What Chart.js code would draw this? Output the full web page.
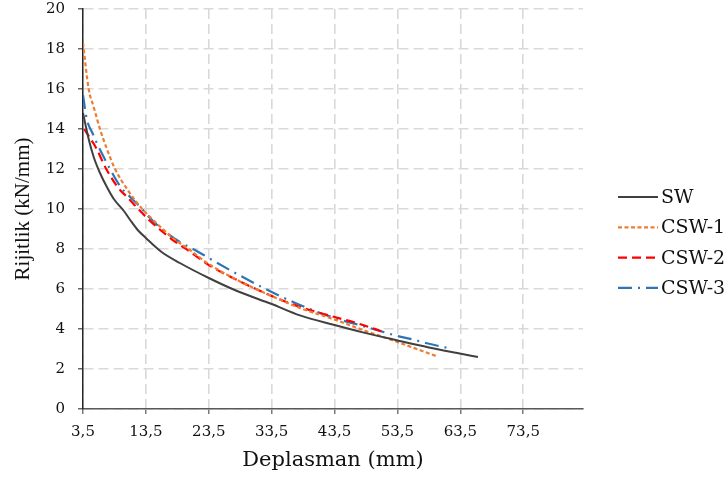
<!DOCTYPE html>
<html>
<head>
<meta charset="utf-8">
<script src="https://cdn.jsdelivr.net/npm/chart.js@4.4.1/dist/chart.umd.min.js"></script>
<style>
html,body{margin:0;padding:0;background:#fff;}
#wrap{width:728px;height:484px;}
</style>
</head>
<body>
<div id="wrap"><canvas id="rijitlik" width="728" height="484"></canvas></div>
<script>
// deplasman (mm) / rijitlik (kN/mm) per specimen
const xTicks=[3.5,13.5,23.5,33.5,43.5,53.5,63.5,73.5];

const swX=[3.5,4.4,5.2,6.2,7.3,8.4,10,11,12.2,13.5,16,18.9,23.5,28,33.5,38,43.5,48,53.5,58.5,63,66.3];
const swY=[14.8,13.5,12.6,11.8,11.1,10.5,9.9,9.45,8.95,8.55,7.85,7.3,6.55,5.9,5.25,4.68,4.2,3.83,3.43,3.08,2.8,2.6];

const csw1X=[3.5,4.4,5.2,6.2,7.3,8.6,10.5,12.9,14,16,18,20.5,23.5,28,33.5,38,43.5,48,53.5,57,59.8];
const csw1Y=[18.3,16.0,15.1,14.0,13.0,12.0,11.0,10.0,9.65,9.05,8.5,7.95,7.25,6.45,5.65,5.05,4.47,3.95,3.35,2.95,2.63];

const csw2X=[3.7,4.5,5.5,7.2,9,10.5,12.3,14,16,18,20,23.5,28,33.5,38,43.5,47.5,51];
const csw2Y=[14.0,13.6,13.1,12.0,11.1,10.6,10.0,9.45,8.9,8.4,7.98,7.2,6.45,5.65,5.1,4.6,4.25,3.88];

const csw3X=[3.5,4.1,5,5.7,6.8,7.8,9.5,11,12.9,14,16,18.9,21.3,23.5,28,33.5,38,43.5,48,50.7,53.5,56,58,61.5];
const csw3Y=[15.7,14.5,13.8,13.3,12.6,12.0,11.1,10.6,10.0,9.6,9.0,8.35,7.95,7.55,6.75,5.85,5.2,4.55,4.15,3.9,3.65,3.47,3.3,3.05];

const pts=(xs,ys)=>xs.map((x,i)=>({x:x,y:ys[i]}));

const serif='"DejaVu Serif", "Liberation Serif", serif';
const ink='#111';

// legend drawn to the right of the plot: short line sample + label
const sideLegend={
  id:'sideLegend',
  afterDraw(chart){
    const ctx=chart.ctx;
    const x0=chart.chartArea.right+35;
    chart.data.datasets.forEach((ds,i)=>{
      const y=197+i*30.3;
      ctx.save();
      ctx.strokeStyle=ds.borderColor;
      ctx.lineWidth=ds.borderWidth;
      ctx.setLineDash(ds.borderDash||[]);
      ctx.beginPath();
      ctx.moveTo(x0,y);
      ctx.lineTo(x0+40,y);
      ctx.stroke();
      ctx.setLineDash([]);
      ctx.fillStyle=ink;
      ctx.font='19px '+serif;
      ctx.textBaseline='middle';
      ctx.fillText(ds.label,x0+43,y+1);
      ctx.restore();
    });
  }
};

const line=(label,xs,ys,color,dash,w)=>({
  label:label,data:pts(xs,ys),borderColor:color,backgroundColor:color,
  borderWidth:w,borderDash:dash,pointRadius:0,cubicInterpolationMode:'monotone',fill:false
});

new Chart(document.getElementById('rijitlik'),{
  type:'line',
  data:{datasets:[
    line('SW',swX,swY,'#404040',[],2),
    line('CSW-1',csw1X,csw1Y,'#ED7D31',[4,2.5],2.2),
    line('CSW-2',csw2X,csw2Y,'#FF0000',[9,5],2.2),
    line('CSW-3',csw3X,csw3Y,'#2E75B6',[14,6,2,6],2.2)
  ]},
  options:{
    responsive:false,
    animation:false,
    devicePixelRatio:1,
    layout:{padding:{top:9,right:145,left:0,bottom:0}},
    plugins:{legend:{display:false},tooltip:{enabled:false}},
    scales:{
      x:{
        type:'linear',min:3.5,max:83,
        afterBuildTicks:s=>{s.ticks=xTicks.map(v=>({value:v}));},
        afterFit:s=>{s.height=75;s.paddingLeft=0;s.paddingRight=0;},
        grid:{color:'#d9d9d9',lineWidth:1.6,tickLength:5,tickColor:'#595959',tickWidth:1.2},
        border:{color:'#595959',width:1.5,dash:[10,5]},
        ticks:{padding:9,color:ink,maxRotation:0,autoSkip:false,font:{family:serif,size:15},
          callback:v=>v.toFixed(1).replace('.',',')},
        title:{display:true,text:'Deplasman (mm)',color:ink,font:{family:serif,size:21},padding:{top:0,bottom:11}}
      },
      y:{
        min:0,max:20,
        afterFit:s=>{s.width=83;s.paddingTop=0;s.paddingBottom=0;},
        grid:{color:'#d9d9d9',lineWidth:1.6,tickLength:5,tickColor:'#404040',tickWidth:1.2},
        border:{color:'#262626',width:1.5,dash:[10,5]},
        ticks:{stepSize:2,padding:13,color:ink,font:{family:serif,size:15}},
        title:{display:true,text:'Rijitlik (kN/mm)',color:ink,font:{family:'"Liberation Serif", serif',size:21},padding:{top:11,bottom:0}}
      }
    }
  },
  plugins:[sideLegend]
});
</script>
</body>
</html>
